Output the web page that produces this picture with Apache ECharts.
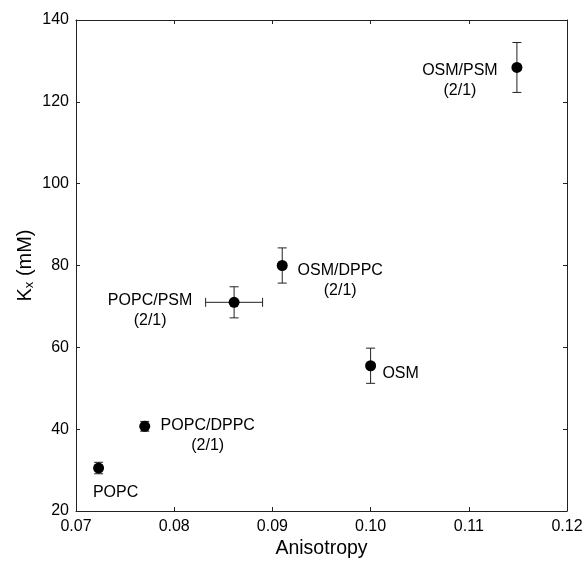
<!DOCTYPE html>
<html>
<head>
<meta charset="utf-8">
<script src="https://cdn.jsdelivr.net/npm/echarts@6/dist/echarts.min.js"></script>
<style>
html,body{margin:0;padding:0;background:#fff;}
#chart{width:586px;height:567px;}
</style>
</head>
<body>
<div id="chart"></div>
<script>
// Data
var names = ['POPC', 'POPC/DPPC\n(2/1)', 'POPC/PSM\n(2/1)', 'OSM/DPPC\n(2/1)', 'OSM', 'OSM/PSM\n(2/1)'];
var anisotropy = [0.0723, 0.0770, 0.0861, 0.0910, 0.1000, 0.1149];
var kx = [30.5, 40.7, 71.0, 80.0, 55.5, 128.4];
var kxErr = [1.4, 1.2, 3.8, 4.3, 4.3, 6.1];
var anisoErr = [0, 0, 0.0029, 0, 0, 0];
var xTicks = [0.07, 0.08, 0.09, 0.10, 0.11, 0.12];
var yTicks = [20, 40, 60, 80, 100, 120, 140];

// label offsets (layout only)
var labelOffsets = [[17, 25], [63, 9], [-84, 8], [58, 15], [30, 8], [-57, 13]];

var FONT = '"Liberation Sans", Arial, sans-serif';
var axisColor = '#222';

var scatterData = anisotropy.map(function (x, i) {
  return {
    value: [x, kx[i]],
    label: { offset: labelOffsets[i] }
  };
});
var errData = anisotropy.map(function (x, i) {
  return [x, kx[i], kxErr[i], anisoErr[i]];
});

function axisCommon(extra) {
  var base = {
    type: 'value',
    axisLine: { show: true, onZero: false, lineStyle: { color: axisColor, width: 1 } },
    axisTick: { show: true, inside: true, length: 4, lineStyle: { color: axisColor, width: 1 } },
    splitLine: { show: false },
    axisLabel: { show: true, color: '#000', fontFamily: FONT, fontSize: 16 }
  };
  for (var k in extra) base[k] = extra[k];
  return base;
}

var option = {
  backgroundColor: '#fff',
  animation: false,
  grid: { left: 76, right: 19, top: 20, bottom: 56, containLabel: false },
  xAxis: [
    axisCommon({
      position: 'bottom', min: xTicks[0], max: xTicks[xTicks.length - 1], interval: 0.01,
      name: 'Anisotropy', nameLocation: 'middle', nameGap: 28, nameMoveOverlap: false,
      nameTextStyle: { fontFamily: FONT, fontSize: 19.5, color: '#000' },
      axisLabel: { show: true, color: '#000', fontFamily: FONT, fontSize: 16, margin: 8,
        formatter: function (v) { return v.toFixed(2); } }
    }),
    axisCommon({
      position: 'top', min: xTicks[0], max: xTicks[xTicks.length - 1], interval: 0.01,
      axisLabel: { show: false }
    })
  ],
  yAxis: [
    axisCommon({
      position: 'left', min: yTicks[0], max: yTicks[yTicks.length - 1], interval: 20,
      name: '{k|K}{s|x}{k| (mM)}', nameLocation: 'middle', nameGap: 40, nameMoveOverlap: false,
      nameTextStyle: {
        fontFamily: FONT, color: '#000',
        rich: {
          k: { fontSize: 20, fontFamily: FONT, color: '#000', lineHeight: 22 },
          s: { fontSize: 13, fontFamily: FONT, color: '#000', verticalAlign: 'bottom', lineHeight: 14 }
        }
      },
      axisLabel: { show: true, color: '#000', fontFamily: FONT, fontSize: 16, margin: 7 }
    }),
    axisCommon({
      position: 'right', min: yTicks[0], max: yTicks[yTicks.length - 1], interval: 20,
      axisLabel: { show: false }
    })
  ],
  series: [
    {
      type: 'custom',
      xAxisIndex: 0, yAxisIndex: 0,
      data: errData,
      z: 2,
      renderItem: function (params, api) {
        var x = api.value(0), y = api.value(1), ey = api.value(2), ex = api.value(3);
        var children = [];
        var style = { stroke: '#222', lineWidth: 1 };
        var cap = 4.5;
        if (ey > 0) {
          var top = api.coord([x, y + ey]);
          var bot = api.coord([x, y - ey]);
          children.push({ type: 'line', shape: { x1: top[0], y1: top[1], x2: bot[0], y2: bot[1] }, style: style });
          children.push({ type: 'line', shape: { x1: top[0] - cap, y1: top[1], x2: top[0] + cap, y2: top[1] }, style: style });
          children.push({ type: 'line', shape: { x1: bot[0] - cap, y1: bot[1], x2: bot[0] + cap, y2: bot[1] }, style: style });
        }
        if (ex > 0) {
          var l = api.coord([x - ex, y]);
          var r = api.coord([x + ex, y]);
          children.push({ type: 'line', shape: { x1: l[0], y1: l[1], x2: r[0], y2: r[1] }, style: style });
          children.push({ type: 'line', shape: { x1: l[0], y1: l[1] - cap, x2: l[0], y2: l[1] + cap }, style: style });
          children.push({ type: 'line', shape: { x1: r[0], y1: r[1] - cap, x2: r[0], y2: r[1] + cap }, style: style });
        }
        return { type: 'group', children: children };
      }
    },
    {
      type: 'scatter',
      xAxisIndex: 0, yAxisIndex: 0,
      data: scatterData,
      symbol: 'circle',
      symbolSize: 11,
      z: 3,
      itemStyle: { color: '#000', opacity: 1 },
      label: {
        show: true,
        position: 'inside',
        align: 'center',
        verticalAlign: 'middle',
        color: '#000',
        fontFamily: FONT,
        fontSize: 16,
        lineHeight: 20,
        formatter: function (p) { return names[p.dataIndex]; }
      },
      emphasis: { disabled: true }
    }
  ]
};

var chart = echarts.init(document.getElementById('chart'), null, { renderer: 'canvas' });
chart.setOption(option);
</script>
</body>
</html>
